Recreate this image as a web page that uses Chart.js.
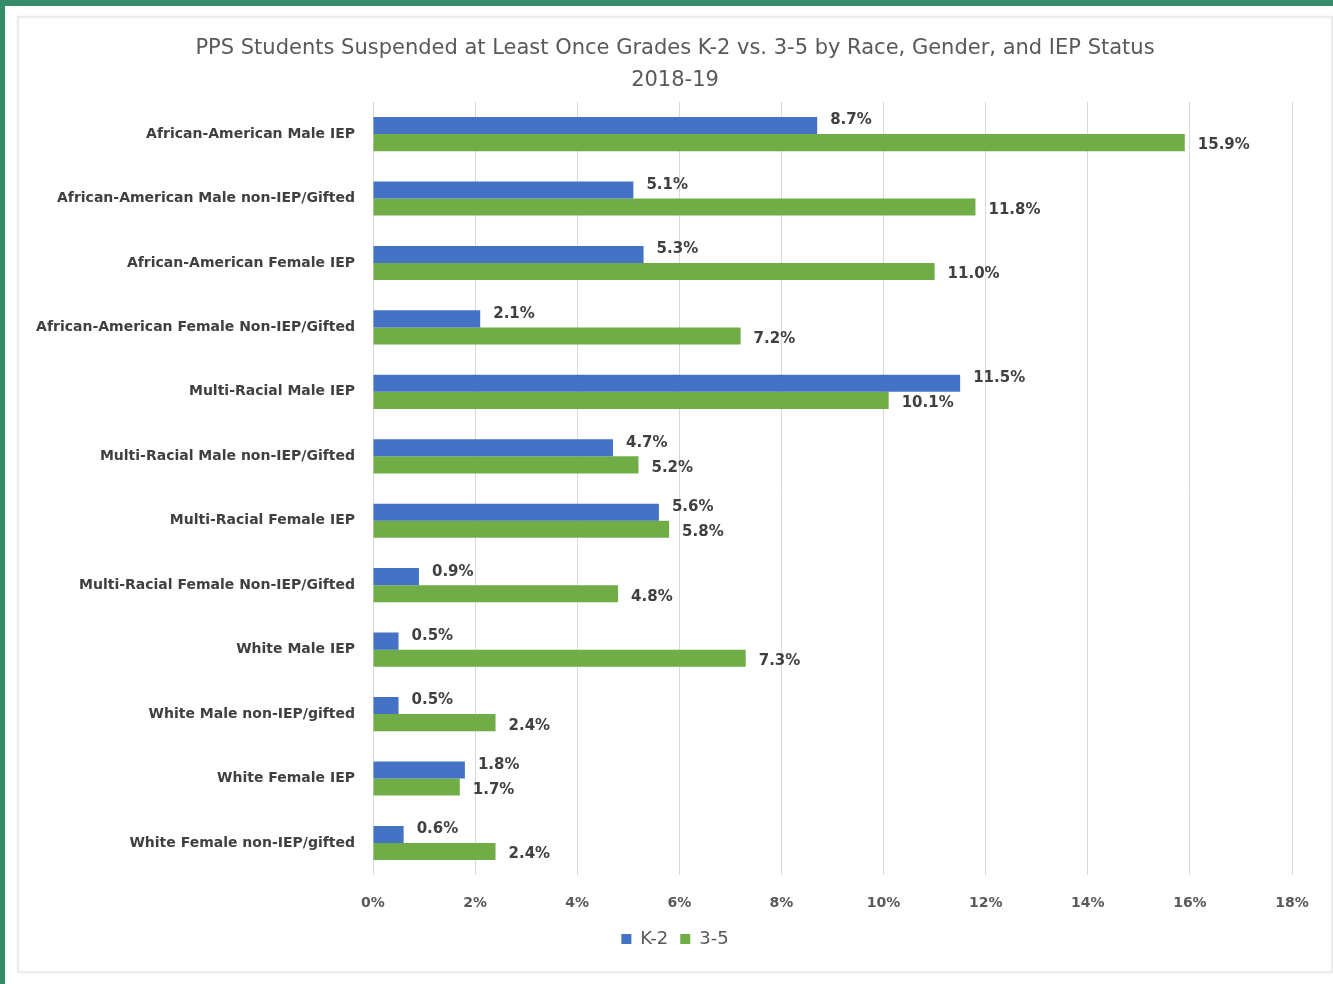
<!DOCTYPE html>
<html>
<head>
<meta charset="utf-8">
<script src="https://cdn.jsdelivr.net/npm/chart.js@4.4.1/dist/chart.umd.min.js"></script>
<style>
  html, body { margin: 0; padding: 0; background: #fff; }
  body { width: 1333px; height: 984px; position: relative; overflow: hidden; }
  .edge-top { position: absolute; left: 0; top: 0; width: 1333px; height: 6px; background: #368b69; }
  .edge-left { position: absolute; left: 0; top: 0; width: 5px; height: 984px; background: #368b69; }
  .frame {
    position: absolute; left: 17px; top: 16px; width: 1312px; height: 953px;
    border: 2px solid #ececec; box-shadow: 0 0 3px rgba(0,0,0,0.06); background: #fff;
  }
  .frame canvas { display: block; }
</style>
</head>
<body>
<div class="edge-top"></div>
<div class="edge-left"></div>
<div class="frame"><canvas id="chart" width="1312" height="953"></canvas></div>
<script>
const categories = [
  'African-American Male IEP',
  'African-American Male non-IEP/Gifted',
  'African-American Female IEP',
  'African-American Female Non-IEP/Gifted',
  'Multi-Racial Male IEP',
  'Multi-Racial Male non-IEP/Gifted',
  'Multi-Racial Female IEP',
  'Multi-Racial Female Non-IEP/Gifted',
  'White Male IEP',
  'White Male non-IEP/gifted',
  'White Female IEP',
  'White Female non-IEP/gifted'
];
const k2Values = [8.7, 5.1, 5.3, 2.1, 11.5, 4.7, 5.6, 0.9, 0.5, 0.5, 1.8, 0.6];
const g35Values = [15.9, 11.8, 11.0, 7.2, 10.1, 5.2, 5.8, 4.8, 7.3, 2.4, 1.7, 2.4];
const seriesNames = ['K-2', '3-5'];
const titleLines = ['PPS Students Suspended at Least Once Grades K-2 vs. 3-5 by Race, Gender, and IEP Status', '2018-19'];

const FONT = "'DejaVu Sans', 'Open Sans', sans-serif";

// draws the value next to the end of each bar
const barLabels = {
  id: 'barLabels',
  afterDatasetsDraw(chart) {
    const ctx = chart.ctx;
    ctx.save();
    ctx.font = 'bold 15px ' + FONT;
    ctx.fillStyle = '#404040';
    ctx.textBaseline = 'middle';
    ctx.textAlign = 'left';
    chart.data.datasets.forEach((ds, i) => {
      const meta = chart.getDatasetMeta(i);
      meta.data.forEach((bar, j) => {
        const shift = i === 0 ? -5 : 3;
        ctx.fillText(ds.data[j].toFixed(1) + '%', bar.x + 13, bar.y + shift);
      });
    });
    ctx.restore();
  }
};

new Chart(document.getElementById('chart'), {
  type: 'bar',
  data: {
    labels: categories,
    datasets: [
      { label: seriesNames[0], data: k2Values, backgroundColor: '#4472C4' },
      { label: seriesNames[1], data: g35Values, backgroundColor: '#70AD47' }
    ]
  },
  options: {
    indexAxis: 'y',
    responsive: false,
    animation: false,
    categoryPercentage: 0.53,
    barPercentage: 1,
    layout: { padding: { left: 0, right: 0, top: 0, bottom: 13 } },
    plugins: {
      title: {
        display: true,
        text: titleLines,
        color: '#595959',
        font: { family: FONT, size: 21, weight: 'normal', lineHeight: 1.52 },
        padding: { top: 15, bottom: 5 }
      },
      legend: {
        position: 'bottom',
        labels: {
          color: '#595959',
          font: { family: FONT, size: 18 },
          boxWidth: 10,
          boxHeight: 10,
          padding: 12
        }
      },
      tooltip: { enabled: false }
    },
    scales: {
      x: {
        min: 0,
        max: 18,
        afterFit(scale) { scale.height -= 14; },
        ticks: {
          stepSize: 2,
          color: '#595959',
          padding: 20,
          font: { family: FONT, size: 14, weight: 'bold' },
          callback: v => v + '%'
        },
        grid: { color: '#d9d9d9', drawTicks: false },
        border: { display: false }
      },
      y: {
        afterFit(scale) { scale.width = 354; },
        ticks: {
          color: '#404040',
          padding: 18,
          autoSkip: false,
          font: { family: FONT, size: 14, weight: 'bold' }
        },
        grid: { display: false, drawTicks: false },
        border: { display: false }
      },
      // empty right-hand axis, only keeps the blank margin after 18%
      spacer: {
        type: 'category',
        position: 'right',
        afterFit(scale) { scale.width = 39; },
        ticks: { display: false },
        grid: { display: false, drawTicks: false },
        border: { display: false }
      }
    }
  },
  plugins: [barLabels]
});
</script>
</body>
</html>
